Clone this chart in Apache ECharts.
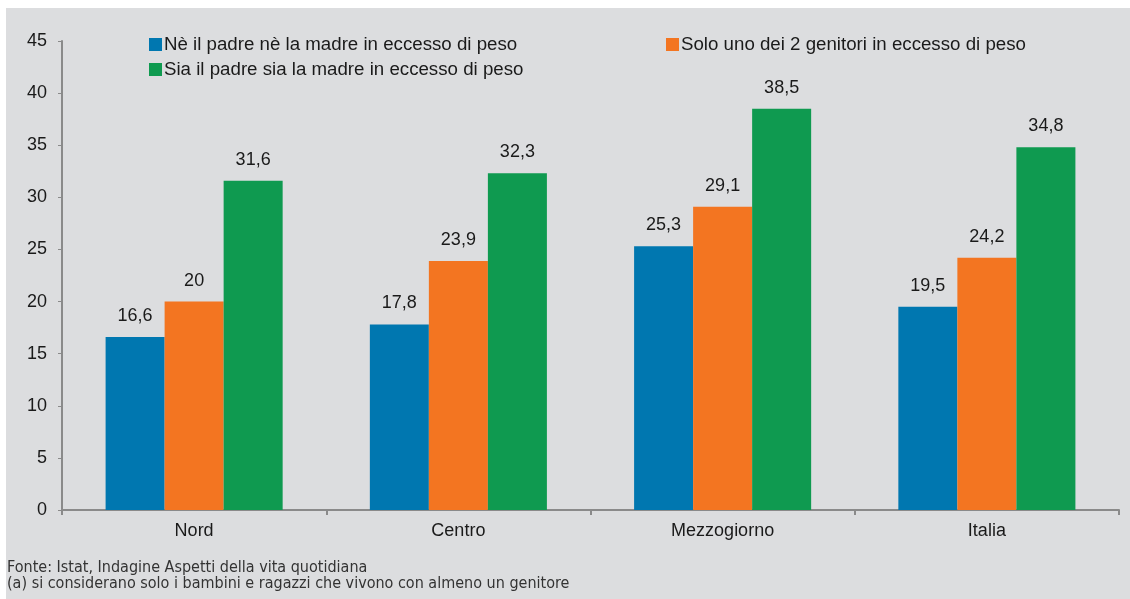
<!DOCTYPE html>
<html>
<head>
<meta charset="utf-8">
<script src="https://cdn.jsdelivr.net/npm/echarts@6/dist/echarts.min.js"></script>
<style>
html,body{margin:0;padding:0;background:#ffffff;}
#wrap{position:absolute;left:6px;top:8px;width:1124px;height:591px;background:#dcdddf;}
#chart{position:absolute;left:0;top:0;width:1130px;height:599px;}
</style>
</head>
<body>
<div id="wrap"></div>
<div id="chart"></div>
<script>
const categories = ['Nord', 'Centro', 'Mezzogiorno', 'Italia'];
const seriesNames = [
  'Nè il padre nè la madre in eccesso di peso',
  'Solo uno dei 2 genitori in eccesso di peso',
  'Sia il padre sia la madre in eccesso di peso'
];
const nessuno = [16.6, 17.8, 25.3, 19.5];
const unoSolo = [20, 23.9, 29.1, 24.2];
const entrambi = [31.6, 32.3, 38.5, 34.8];
const colors = ['#0077b0', '#f37521', '#0f9a50'];
const footnotes = [
  'Fonte: Istat, Indagine Aspetti della vita quotidiana',
  '(a) si considerano solo i bambini e ragazzi che vivono con almeno un genitore'
];

const chart = echarts.init(document.getElementById('chart'), null, {renderer: 'canvas'});
const font = "Arial, 'Liberation Sans', Helvetica, sans-serif";
const valueSets = [nessuno, unoSolo, entrambi];
const legendPos = [{left: 149, top: 35}, {left: 666, top: 35}, {left: 149, top: 60}];

const option = {
  backgroundColor: 'transparent',
  animation: false,
  color: colors,
  textStyle: {fontFamily: font},
  grid: {left: 62, right: 11, top: 41, bottom: 89, containLabel: false},
  legend: seriesNames.map((n, i) => ({
    data: [n],
    left: legendPos[i].left,
    top: legendPos[i].top,
    itemWidth: 13, itemHeight: 13, itemGap: 0,
    icon: 'rect',
    padding: 0,
    textStyle: {fontSize: 18.7, color: '#1a1a1a', fontFamily: font, padding: [0, 0, 0, -3]}
  })),
  xAxis: {
    type: 'category',
    data: categories,
    axisLine: {lineStyle: {color: '#8a8a8a', width: 2}},
    axisTick: {show: true, length: 5, lineStyle: {color: '#8a8a8a', width: 2}},
    axisLabel: {fontSize: 18, color: '#1a1a1a', margin: 12, fontFamily: font},
    splitLine: {show: false}
  },
  yAxis: {
    type: 'value',
    min: 0, max: 45, interval: 5,
    axisLine: {show: true, lineStyle: {color: '#8a8a8a', width: 2}},
    axisTick: {show: true, length: 4, lineStyle: {color: '#8a8a8a', width: 1}},
    axisLabel: {fontSize: 18, color: '#1a1a1a', margin: 15, fontFamily: font},
    splitLine: {show: false}
  },
  series: seriesNames.map((n, i) => ({
    name: n,
    type: 'bar',
    data: valueSets[i],
    barGap: '0%',
    barCategoryGap: '33%',
    itemStyle: {color: colors[i]},
    label: {
      show: true, position: 'top', distance: 12,
      fontSize: 18, color: '#1a1a1a', fontFamily: font,
      formatter: p => String(p.value).replace('.', ',')
    }
  })),
  graphic: footnotes.map((t, i) => ({
    type: 'text',
    left: 7,
    top: 560 + i * 16,
    style: {
      text: t,
      fontSize: 16,
      fill: '#333333',
      fontFamily: "'DejaVu Sans Condensed', 'Liberation Sans Narrow', sans-serif"
    }
  }))
};
chart.setOption(option);
</script>
</body>
</html>
